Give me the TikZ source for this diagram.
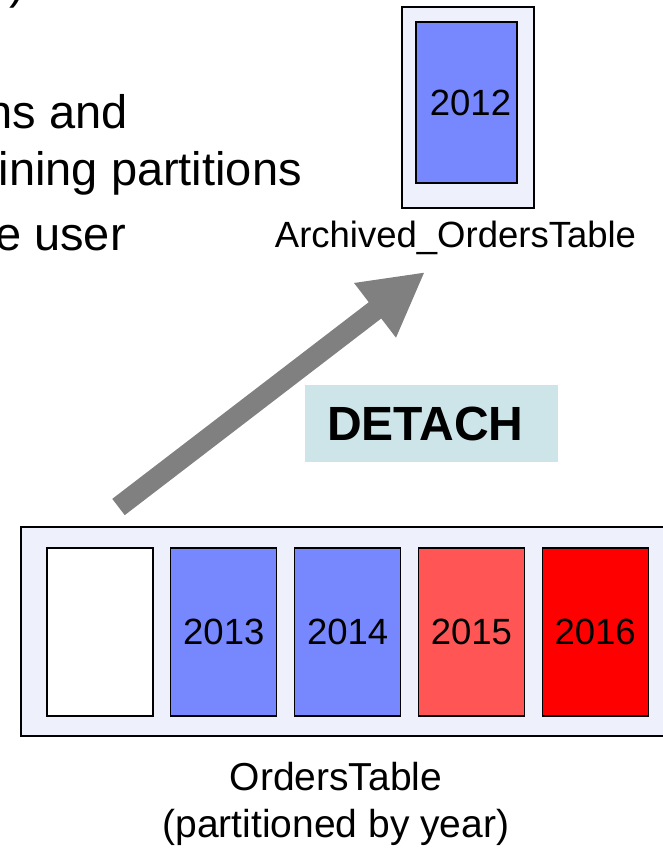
\documentclass[tikz,border=0pt]{standalone}
\usepackage{fontspec}
\setmainfont{Liberation Sans}
\usepackage{tikz}
\usetikzlibrary{arrows.meta, positioning}
\definecolor{framebg}{HTML}{EEF0FC}
\definecolor{partblue}{HTML}{7788FF}
\definecolor{partsalmon}{HTML}{FF5555}
\definecolor{partred}{HTML}{FF0000}
\definecolor{detachbg}{HTML}{CDE5E8}
\definecolor{arrowgray}{HTML}{808080}

\begin{document}
\begin{tikzpicture}[
  x=1pt, y=-1pt,
  frame/.style={draw=black, fill=framebg, line width=1.5pt, inner sep=0pt},
  part/.style={draw=black, fill=partblue, line width=1.3pt, inner sep=0pt,
               minimum width=106pt, minimum height=168pt,
               font=\fontsize{36.5}{40}\selectfont},
  lbl/.style={font=\fontsize{39}{47}\selectfont, align=center},
  bullet/.style={font=\fontsize{47}{56}\selectfont, anchor=base east, inner sep=0pt},
  arr/.style={-{Triangle[length=63pt, width=64pt]}, line width=20.5pt, color=arrowgray}
]
  \useasboundingbox (0,0) rectangle (663,849);
  \clip (0,0) rectangle (663,849);

  % slide text running in from the left
  \node[bullet] (brk) at (25,-2) {)};
  \node[bullet] (line1) at (128,128) {ns and};
  \node[bullet] (line2) at (302,185) {ining partitions};
  \node[bullet] (line3) at (126,250) {e user};

  % archived table with the detached partition
  \node[frame, minimum width=132pt, minimum height=201pt] (archived) at (468,107.5) {};
  \node[part, minimum width=101pt, minimum height=161pt] (p12) at (466.5,102.5) {\hspace{8pt}2012};
  \node[font=\fontsize{36.5}{42}\selectfont, anchor=base] (archlbl) at (455.5,247)
    {Archived\_OrdersTable};

  % partitioned table
  \node[frame, minimum width=654pt, minimum height=209pt] (orders) at (348,631.5) {};
  \node[part, fill=white] (p0) at (100,632) {};
  \node[part, right=16.5pt of p0] (p13) {2013};
  \node[part, right=16.5pt of p13] (p14) {2014};
  \node[part, fill=partsalmon, right=16.5pt of p14] (p15) {2015};
  \node[part, fill=partred, right=16.5pt of p15] (p16) {2016};
  \node[lbl, anchor=base] (orderslbl) at (336,837) {OrdersTable\\(partitioned by year)};

  \node[fill=detachbg, text width=209pt, inner xsep=22pt, align=left,
        minimum height=77pt, anchor=west,
        font=\fontsize{48}{54}\selectfont\bfseries] (detach) at (305,423.5) {DETACH};

  \coordinate (detachfrom) at (118.5,507);
  \coordinate (detachto) at (425,272);
  \draw[arr] (detachfrom) -- (detachto);
\end{tikzpicture}
\end{document}
